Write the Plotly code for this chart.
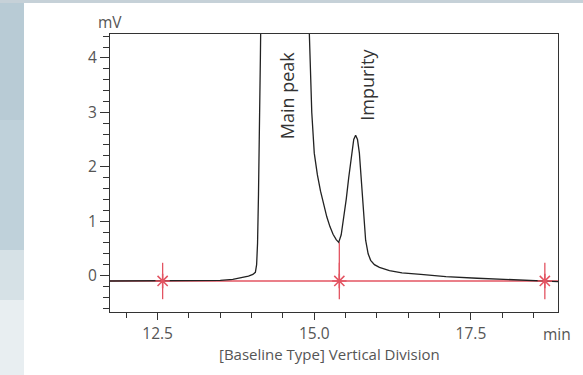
import plotly.graph_objects as go

# Chromatogram signal (time in min, detector response in mV)
time_min = [11.74, 12.5, 13.0, 13.5, 13.7, 13.85, 13.95, 14.02, 14.06, 14.08, 14.095,
            14.11, 14.125, 14.14, 14.16, 14.5, 14.88, 14.92, 14.96, 15.0, 15.05, 15.1,
            15.15, 15.2, 15.25, 15.3, 15.35, 15.39, 15.43, 15.47, 15.51, 15.55, 15.59,
            15.63, 15.66, 15.69, 15.72, 15.75, 15.78, 15.82, 15.86, 15.9, 15.96, 16.04,
            16.2, 16.4, 16.7, 17.1, 17.6, 18.2, 18.7, 18.89]
signal_mv = [-0.1, -0.1, -0.1, -0.09, -0.07, -0.04, -0.01, 0.02, 0.06, 0.2, 0.6,
             1.5, 2.5, 4.0, 6.0, 15.0, 6.0, 4.4, 3.0, 2.25, 1.85, 1.55,
             1.3, 1.08, 0.9, 0.76, 0.66, 0.61, 0.75, 1.05, 1.4, 1.8, 2.2,
             2.5, 2.58, 2.5, 2.25, 1.75, 1.15, 0.65, 0.4, 0.28, 0.2, 0.15,
             0.09, 0.05, 0.02, -0.02, -0.05, -0.08, -0.1, -0.11]

# Baseline and division points
baseline_x = [11.74, 18.89]
baseline_y = [-0.1, -0.1]
marker_x = [12.58, 15.4, 18.68]
marker_y = [-0.1, -0.1, -0.1]
division_x = [15.4, 15.4]
division_y = [-0.1, 0.61]

peak_names = ["Main peak", "Impurity"]
peak_label_x = [14.57, 15.85]
peak_label_y = [3.32, 3.5]

x_range = [11.74, 18.89]
y_range = [-0.67, 4.44]

W, H = 583, 375
ML, MR, MT, MB = 110, 25, 34, 63
PW, PH = W - ML - MR, H - MT - MB

def px(xp):
    return (xp - ML) / PW

def py(yp):
    return (H - MB - yp) / PH

BLACK = "#222222"
RED = "#e35462"
TXT = "#555555"
FONT = "Open Sans"
FS = 15.5

fig = go.Figure()

fig.add_trace(go.Scatter(x=baseline_x, y=baseline_y, mode="lines",
                         line=dict(color=RED, width=1.3), hoverinfo="skip"))
fig.add_trace(go.Scatter(x=division_x, y=division_y, mode="lines",
                         line=dict(color=RED, width=1.3), hoverinfo="skip"))
fig.add_trace(go.Scatter(x=time_min, y=signal_mv, mode="lines",
                         line=dict(color=BLACK, width=1.3)))
fig.add_trace(go.Scatter(x=marker_x, y=marker_y, mode="markers",
                         marker=dict(symbol="asterisk-open", size=12, color=RED,
                                     line=dict(color=RED, width=1.5)),
                         hoverinfo="skip"))
fig.add_trace(go.Scatter(x=marker_x, y=marker_y, mode="markers",
                         marker=dict(symbol="line-ns-open", size=26, color=RED,
                                     line=dict(color=RED, width=1.3)),
                         hoverinfo="skip"))

for name, lx, ly in zip(peak_names, peak_label_x, peak_label_y):
    fig.add_annotation(x=lx, y=ly, text=name, showarrow=False, textangle=-90,
                       font=dict(family=FONT, size=18, color="#333333"))

# Page background bands
shapes = [
    dict(type="rect", xref="paper", yref="paper", x0=px(0), x1=px(24),
         y0=py(0), y1=py(120), fillcolor="#b8cbd5", line_width=0, layer="below"),
    dict(type="rect", xref="paper", yref="paper", x0=px(0), x1=px(24),
         y0=py(120), y1=py(250), fillcolor="#bfd1da", line_width=0, layer="below"),
    dict(type="rect", xref="paper", yref="paper", x0=px(0), x1=px(24),
         y0=py(250), y1=py(300), fillcolor="#d6e1e6", line_width=0, layer="below"),
    dict(type="rect", xref="paper", yref="paper", x0=px(0), x1=px(24),
         y0=py(300), y1=py(375), fillcolor="#e8eef1", line_width=0, layer="below"),
    dict(type="rect", xref="paper", yref="paper", x0=px(0), x1=px(583),
         y0=py(0), y1=py(3), fillcolor="#c6d1d8", line_width=0, layer="below"),
]

fig.add_annotation(xref="paper", yref="paper", x=px(110), y=py(22), text="mV",
                   showarrow=False, xanchor="center", yanchor="middle",
                   font=dict(family=FONT, size=FS, color=TXT))
fig.add_annotation(xref="paper", yref="paper", x=px(557), y=py(334), text="min",
                   showarrow=False, xanchor="center", yanchor="middle",
                   font=dict(family=FONT, size=FS, color=TXT))
fig.add_annotation(xref="paper", yref="paper", x=px(329), y=py(354),
                   text="[Baseline Type] Vertical Division",
                   showarrow=False, xanchor="center", yanchor="middle",
                   font=dict(family=FONT, size=15, color=TXT))

fig.update_layout(
    width=W, height=H,
    margin=dict(l=ML, r=MR, t=MT, b=MB, pad=0),
    paper_bgcolor="white", plot_bgcolor="white",
    showlegend=False, shapes=shapes,
    font=dict(family=FONT, size=FS, color=TXT),
)
fig.update_xaxes(range=x_range, showgrid=False, zeroline=False,
                 showline=True, mirror=True, linecolor="#333333", linewidth=1,
                 ticks="outside", ticklen=7, tickcolor="#333333",
                 tick0=12.5, dtick=2.5, tickformat=".1f",
                 tickfont=dict(family=FONT, size=FS, color=TXT),
                 minor=dict(dtick=0.5, tick0=12.5, ticks="outside", ticklen=5,
                            tickcolor="#333333", showgrid=False))
fig.update_yaxes(range=y_range, showgrid=False, zeroline=False,
                 showline=True, mirror=True, linecolor="#333333", linewidth=1,
                 ticks="outside", ticklen=9, tickcolor="#333333",
                 tick0=0, dtick=1,
                 tickfont=dict(family=FONT, size=FS, color=TXT),
                 minor=dict(dtick=0.2, tick0=0, ticks="outside", ticklen=6,
                            tickcolor="#333333", showgrid=False))

fig.write_html("out.html")
